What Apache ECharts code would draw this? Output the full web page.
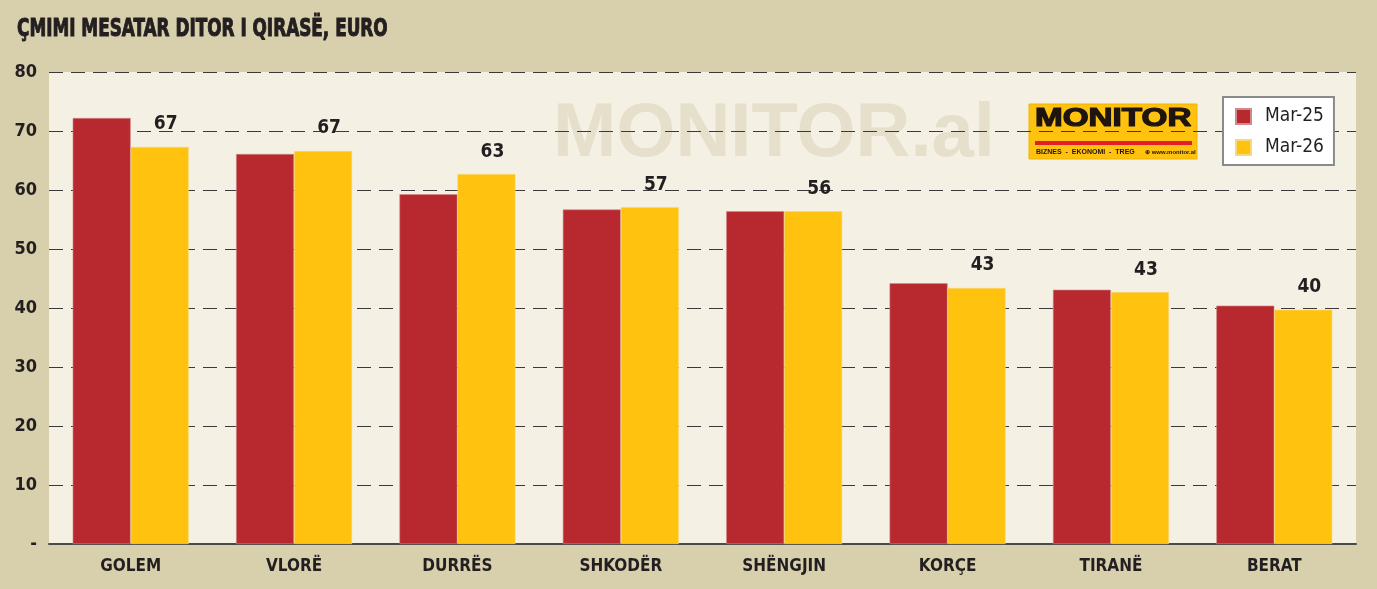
<!DOCTYPE html>
<html>
<head>
<meta charset="utf-8">
<script src="https://cdn.jsdelivr.net/npm/echarts@6/dist/echarts.min.js"></script>
<style>
html,body{margin:0;padding:0;background:#d8cfac;}
#c{width:1377px;height:589px;}
</style>
</head>
<body>
<div id="c"></div>
<script>
const categories = ['GOLEM', 'VLORË', 'DURRËS', 'SHKODËR', 'SHËNGJIN', 'KORÇE', 'TIRANË', 'BERAT'];
const mar25 = [72.2, 66.1, 59.3, 56.7, 56.4, 44.2, 43.1, 40.4];
const mar26 = [67.3, 66.6, 62.7, 57.1, 56.4, 43.4, 42.7, 39.7];
const seriesNames = ['Mar-25', 'Mar-26'];
const titleText = 'ÇMIMI MESATAR DITOR I QIRASË, EURO';

const FONT = '"DejaVu Sans Condensed", "Liberation Sans", Arial, sans-serif';
const TXT = '#231f20';
const RED = '#b8282f';
const YEL = '#fec20f';

const chart = echarts.init(document.getElementById('c'));
const G = {l: 49, t: 72, r: 1356, b: 544};

chart.setOption({
  backgroundColor: '#d8cfac',
  animation: false,
  legend: {
    orient: 'vertical',
    left: 1223, top: 97,
    data: seriesNames,
    icon: 'rect',
    itemWidth: 15, itemHeight: 15,
    itemGap: 12,
    padding: [10, 10, 8, 12],
    backgroundColor: '#ffffff',
    borderColor: '#8a8a8a',
    borderWidth: 2,
    borderRadius: 0,
    textStyle: {fontFamily: FONT, fontSize: 19, color: TXT, padding: [0, 0, 0, 9]}
  },
  grid: {left: G.l, top: G.t, right: 1377 - G.r, bottom: 589 - G.b, containLabel: false},
  graphic: [
    {type: 'rect', z: -20, silent: true,
     shape: {x: G.l, y: G.t, width: G.r - G.l, height: G.b - G.t},
     style: {fill: '#f4f1e4'}},
    {type: 'text', z: -10, silent: true, left: 553, top: 97,
     style: {text: 'MONITOR.al', fill: '#e5dfcb', font: 'bold 76px "Liberation Sans", Arial, sans-serif'}},
    {type: 'text', x: 17, y: 17, scaleX: 0.75,
     style: {text: titleText, fill: TXT, font: 'bold 25px "DejaVu Sans Condensed", "Liberation Sans", sans-serif',
             stroke: TXT, lineWidth: 1}},
    {type: 'group', x: 1029, y: 104, z: 10, children: [
      {type: 'rect', shape: {x: 0, y: 0, width: 168, height: 55},
       style: {fill: '#fec20f', stroke: '#efb400', lineWidth: 1}},
      {type: 'text', x: 6, y: 3, scaleX: 1.33,
       style: {text: 'MONITOR', fill: '#1e1410', font: 'bold 25px "Liberation Sans", Arial, sans-serif',
               stroke: '#1e1410', lineWidth: 1.2}},
      {type: 'rect', shape: {x: 6, y: 37, width: 157, height: 4}, style: {fill: '#e21f26'}},
      {type: 'text', x: 7, y: 45,
       style: {text: 'BIZNES  -  EKONOMI  -  TREG', fill: '#1e1410', font: 'bold 7px "Liberation Sans", Arial, sans-serif'}},
      {type: 'text', x: 116, y: 45,
       style: {text: '⊕ www.monitor.al', fill: '#1e1410', font: 'bold 6px "Liberation Sans", Arial, sans-serif'}}
    ]}
  ],
  xAxis: {
    type: 'category',
    data: categories,
    axisLine: {show: true, lineStyle: {color: '#4a4a4a', width: 2}},
    axisTick: {show: false},
    axisLabel: {fontFamily: FONT, fontSize: 17, fontWeight: 'bold', color: TXT, margin: 14},
    splitLine: {show: false}
  },
  yAxis: {
    type: 'value',
    min: 0, max: 80, interval: 10,
    axisLine: {show: false},
    axisTick: {show: false},
    axisLabel: {
      fontFamily: FONT, fontSize: 18, fontWeight: 'bold', color: TXT, margin: 12,
      formatter: v => v === 0 ? '-' : String(v)
    },
    splitLine: {show: true, lineStyle: {color: '#3a3a3a', width: 1, type: [14, 8]}}
  },
  series: [
    {
      name: seriesNames[0], type: 'bar', data: mar25,
      barWidth: '35.5%', barGap: '0%',
      itemStyle: {color: RED, borderColor: '#d08a8a', borderWidth: 0.6}
    },
    {
      name: seriesNames[1], type: 'bar', data: mar26,
      barWidth: '35.5%', barGap: '0%',
      itemStyle: {color: YEL, borderColor: '#f6d97a', borderWidth: 0.6},
      label: {
        show: true, position: 'top', distance: 13, offset: [6, 0],
        fontFamily: FONT, fontSize: 19, fontWeight: 'bold', color: TXT,
        formatter: p => Math.round(p.value)
      }
    }
  ]
});
</script>
</body>
</html>
